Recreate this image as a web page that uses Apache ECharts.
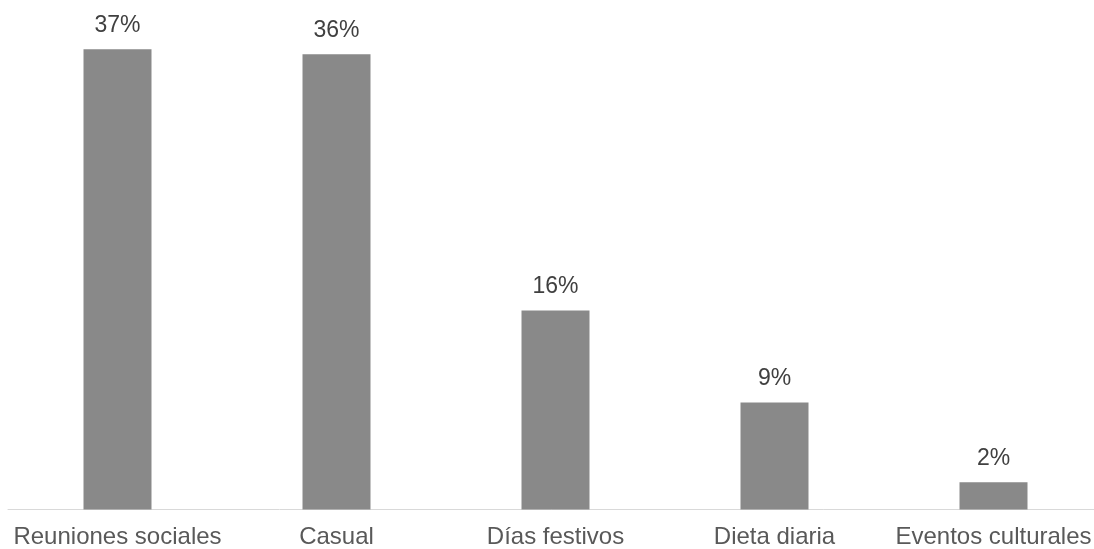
<!DOCTYPE html>
<html>
<head>
<meta charset="utf-8">
<script src="https://cdn.jsdelivr.net/npm/echarts@6/dist/echarts.min.js"></script>
<style>
html,body{margin:0;padding:0;background:#fff;}
#chart{width:1094px;height:549px;}
</style>
</head>
<body>
<div id="chart"></div>
<script>
const categories = ["Reuniones sociales", "Casual", "Días festivos", "Dieta diaria", "Eventos culturales"];
const values = [37.0, 36.6, 16.0, 8.6, 2.2];
const valueLabels = ["37%", "36%", "16%", "9%", "2%"];

const chart = echarts.init(document.getElementById('chart'), null, {renderer: 'canvas'});
chart.setOption({
  animation: false,
  backgroundColor: '#ffffff',
  grid: {left: 8, width: 1095, top: 12, bottom: 39.5, containLabel: false, outerBoundsMode: 'none'},
  xAxis: {
    type: 'category',
    data: categories,
    axisLine: {show: true, lineStyle: {color: '#d9d9d9', width: 1}},
    axisTick: {show: false},
    axisLabel: {color: '#595959', fontFamily: 'Liberation Sans', fontSize: 24, margin: 16, interval: 0}
  },
  yAxis: {
    type: 'value',
    min: 0, max: 40,
    show: false,
    splitLine: {show: false}
  },
  series: [{
    type: 'bar',
    data: values,
    barWidth: 68,
    itemStyle: {color: '#898989'},
    label: {
      show: true,
      position: 'top',
      distance: 12,
      color: '#404040',
      fontFamily: 'Liberation Sans',
      fontSize: 23,
      formatter: p => valueLabels[p.dataIndex]
    }
  }]
});
</script>
</body>
</html>
